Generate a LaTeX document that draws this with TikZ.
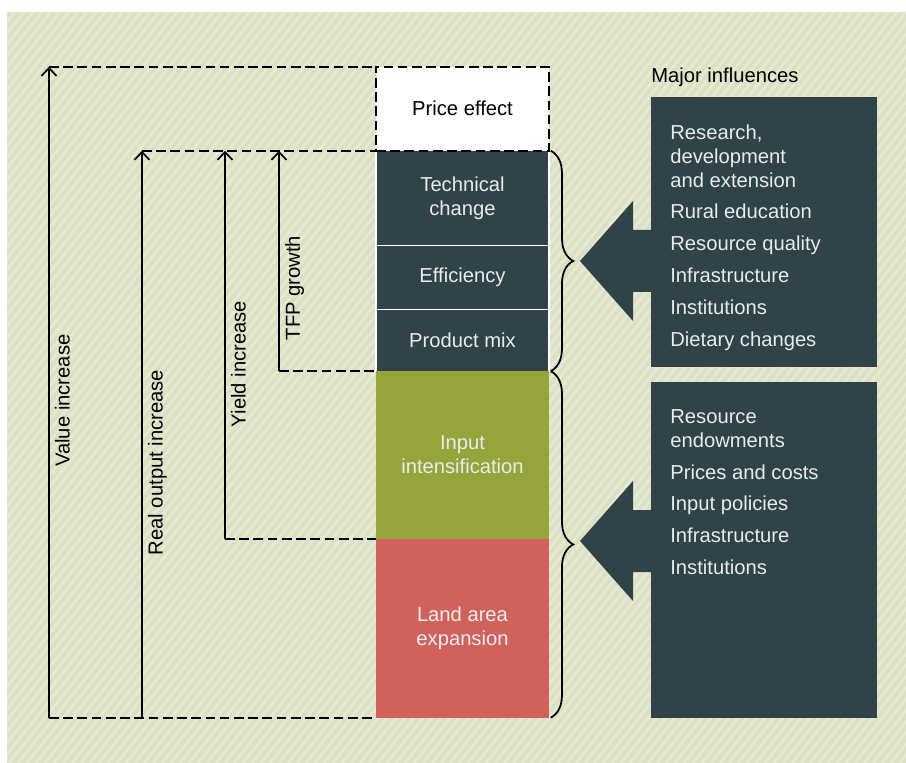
\documentclass[tikz,border=0pt]{standalone}
\usepackage{fontspec}
\setmainfont{Liberation Sans}
\usetikzlibrary{arrows.meta, positioning, decorations.pathreplacing}

\definecolor{slatebox}{RGB}{47,67,73}
\definecolor{inputgreen}{RGB}{150,165,59}
\definecolor{landred}{RGB}{208,98,91}
\definecolor{paper}{RGB}{221,225,195}
\definecolor{paperline}{RGB}{230,233,212}
\definecolor{pale}{RGB}{232,236,236}

\begin{document}
\begin{tikzpicture}[
  x=0.02cm, y=-0.02cm,
  txt/.style={font=\fontsize{11.5pt}{13.7pt}\selectfont},
  colblock/.style={rectangle, minimum width=3.46cm, outer sep=0pt, inner sep=2pt, align=center, txt, text=pale},
  darkblock/.style={colblock, fill=slatebox, draw=white, line width=0.8pt},
  infobox/.style={rectangle, fill=slatebox, minimum width=4.52cm, outer sep=0pt},
  listtext/.style={txt, align=left, inner sep=0pt, text=pale},
  uparrow/.style={-{Straight Barb[length=4.5pt, width=8.5pt]}, line width=0.95pt},
  dashline/.style={dash pattern=on 5.5pt off 2.6pt, line width=1pt},
  curly/.style={decorate, decoration={brace, amplitude=0.45cm, raise=1pt}, line width=1pt},
  arrlabel/.style={rotate=90, anchor=north, inner sep=3pt, txt}
]
\useasboundingbox (0,0) rectangle (906,763);

% background
\fill[paper] (7,12) rectangle (906,763);
\begin{scope}
  \clip (7,12) rectangle (906,763);
  \foreach \i in {-70,...,101}
    \draw[paperline, line width=1.5pt] (\i*9,763) -- ++(600,-751);
\end{scope}

% column of sources
\node[darkblock, minimum height=1.89cm] (tech) at (462.5,198) {Technical\\change};
\node[colblock, draw, dashline, fill=white, text=black, minimum height=1.68cm, above=0pt of tech] (price) {Price effect};
\node[darkblock, minimum height=1.28cm, below=0pt of tech] (eff) {Efficiency};
\node[darkblock, minimum height=1.24cm, below=0pt of eff] (mix) {Product mix};
\node[colblock, fill=inputgreen, minimum height=3.35cm, below=0pt of mix] (input) {Input\\intensification};
\node[colblock, fill=landred, minimum height=3.58cm, below=0pt of input] (land) {Land area\\expansion};

% arrow ends
\coordinate (vbot) at (49,0 |- land.south);
\coordinate (vtop) at (49,0 |- price.north);
\coordinate (rbot) at (142,0 |- land.south);
\coordinate (rtop) at (142,0 |- tech.north);
\coordinate (ybot) at (225,0 |- input.south);
\coordinate (ytop) at (225,0 |- tech.north);
\coordinate (tbot) at (279,0 |- mix.south);
\coordinate (ttop) at (279,0 |- tech.north);

\draw[dashline] (vtop) -- (price.north west);
\draw[dashline] (vbot) -- (land.south west);
\draw[dashline] (rtop) -- (price.south west);
\draw[dashline] (ybot) -- (input.south west);
\draw[dashline] (tbot) -- (mix.south west);

\draw[uparrow] (vbot) -- (vtop) node[arrlabel, pos=0.487] {Value increase};
\draw[uparrow] (rbot) -- (rtop) node[arrlabel, pos=0.45] {Real output increase};
\draw[uparrow] (ybot) -- (ytop) node[arrlabel, pos=0.45] {Yield increase};
\draw[uparrow] (tbot) -- (ttop) node[arrlabel, pos=0.377] {TFP growth};

% braces
\draw[curly] (tech.north east) -- (mix.south east);
\draw[curly] (input.north east) -- (land.south east);

% influences
\node[infobox, minimum height=5.4cm] (upbox) at (764,232) {};
\node[infobox, minimum height=6.72cm] (lowbox) at (764,550) {};
\node[txt, anchor=base west, inner sep=0pt] (major) at ([yshift=0.3cm]upbox.north west) {Major influences};

\coordinate (uptip) at (580,261);
\coordinate (lowtip) at (580,541);
\fill[slatebox] (uptip) -- ++(53,-60) -- ++(0,29) -- ++(21,0) -- ++(0,62) -- ++(-21,0) -- ++(0,29) -- cycle;
\fill[slatebox] (lowtip) -- ++(53,-60) -- ++(0,29) -- ++(21,0) -- ++(0,62) -- ++(-21,0) -- ++(0,29) -- cycle;

\node[listtext, anchor=north west] (uplist) at ([xshift=0.38cm, yshift=-0.54cm]upbox.north west)
  {Research,\\development\\and extension\\[4.4pt]Rural education\\[4.4pt]Resource quality\\[4.4pt]Infrastructure\\[4.4pt]Institutions\\[4.4pt]Dietary changes};
\node[listtext, anchor=north west] (lowlist) at ([xshift=0.38cm, yshift=-0.54cm]lowbox.north west)
  {Resource\\endowments\\[4.4pt]Prices and costs\\[4.4pt]Input policies\\[4.4pt]Infrastructure\\[4.4pt]Institutions};
\end{tikzpicture}
\end{document}
